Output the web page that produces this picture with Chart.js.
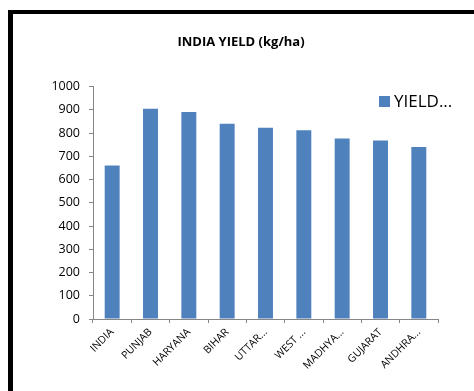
<!DOCTYPE html>
<html>
<head>
<meta charset="utf-8">
<script src="https://cdn.jsdelivr.net/npm/chart.js@4"></script>
<style>
  html, body { margin: 0; padding: 0; background: #fff; overflow: hidden; }
  #wrap { position: relative; width: 474px; height: 391px; }
  #marco {
    position: absolute; left: 8px; top: 10px; width: 480px; height: 400px;
    border-left: 5px solid #000; border-top: 4px solid #000;
  }
  #grafico { position: absolute; left: 0; top: 0; }
</style>
</head>
<body>
<div id="wrap">
  <div id="marco"></div>
  <canvas id="grafico" width="474" height="391"></canvas>
</div>
<script>
// Rendimiento por estado (kg/ha)
const estados = ['INDIA', 'PUNJAB', 'HARYANA', 'BIHAR', 'UTTAR...', 'WEST ...', 'MADHYA...', 'GUJARAT', 'ANDHRA...'];
const rendimiento = [661, 905, 891, 840, 823, 812, 777, 768, 740];
const ticksY = [0, 100, 200, 300, 400, 500, 600, 700, 800, 900, 1000];

const AZUL = '#4F81BD';
const GRIS = '#868686';
const FUENTE = 'Open Sans';

// Leyenda dibujada dentro del área de gráfico, arriba a la derecha
const leyendaInterna = {
  id: 'leyendaInterna',
  afterDraw(chart) {
    const ctx = chart.ctx;
    const ds = chart.data.datasets[0];
    ctx.save();
    ctx.fillStyle = ds.backgroundColor;
    ctx.fillRect(379, 96, 11, 11);
    ctx.fillStyle = '#000';
    ctx.font = `17px "${FUENTE}"`;
    ctx.textBaseline = 'middle';
    ctx.textAlign = 'left';
    ctx.fillText(ds.label, 394, 102);
    ctx.restore();
  }
};

const ctx = document.getElementById('grafico').getContext('2d');
new Chart(ctx, {
  type: 'bar',
  data: {
    labels: estados,
    datasets: [{
      label: 'YIELD...',
      data: rendimiento,
      backgroundColor: AZUL,
      borderWidth: 0,
      barPercentage: 0.39,
      categoryPercentage: 1
    }]
  },
  options: {
    responsive: false,
    animation: false,
    layout: { padding: { left: 44, right: 36, top: 0, bottom: 0 } },
    plugins: {
      legend: { display: false },
      tooltip: { enabled: false },
      title: {
        display: true,
        text: 'INDIA YIELD (kg/ha)',
        color: '#000',
        font: { family: FUENTE, size: 13, weight: 'bold' },
        padding: { top: 34, bottom: 37 }
      }
    },
    scales: {
      x: {
        grid: { display: true, drawOnChartArea: false, drawTicks: true, tickLength: 4, color: GRIS, offset: true },
        border: { display: true, color: GRIS, width: 1 },
        ticks: {
          color: '#000',
          font: { family: FUENTE, size: 10.5 },
          minRotation: 45, maxRotation: 45,
          autoSkip: false,
          padding: 3
        },
        afterFit: s => { s.height = 72; }
      },
      y: {
        min: 0, max: 1000,
        afterBuildTicks: s => { s.ticks = ticksY.map(v => ({ value: v })); },
        grid: { display: true, drawOnChartArea: false, drawTicks: true, tickLength: 4, color: GRIS },
        border: { display: true, color: GRIS, width: 1 },
        ticks: {
          color: '#000',
          font: { family: FUENTE, size: 12.5 },
          padding: 9,
          callback: v => String(v)
        },
        afterFit: s => { s.width = 49; }
      }
    }
  },
  plugins: [leyendaInterna]
});
</script>
</body>
</html>
